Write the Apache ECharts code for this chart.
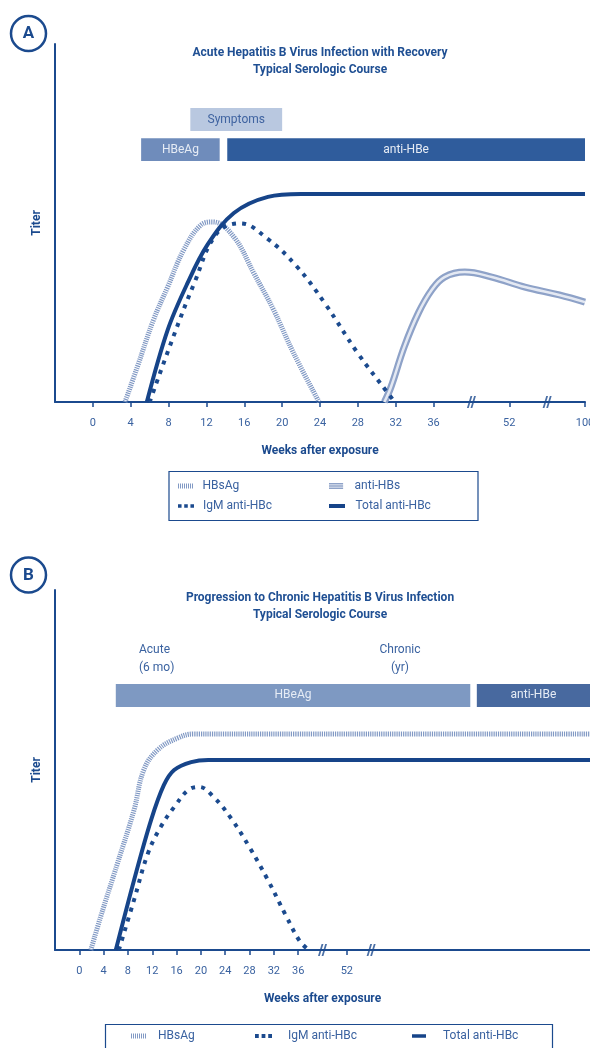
<!DOCTYPE html>
<html>
<head>
<meta charset="utf-8">
<script src="https://cdn.jsdelivr.net/npm/echarts@6/dist/echarts.min.js"></script>
<style>
  html, body { margin: 0; padding: 0; background: #fff; }
  #chart { width: 590px; height: 1048px; }
</style>
</head>
<body>
<div id="chart"></div>
<script>
// ---- panel A: acute infection with recovery (weeks after exposure, titer 0-100) ----
const hbsagWeeksA = [3.4, 4.7, 6.4, 7.9, 9.6, 11.4, 12.7, 14.9, 17.0, 19.1, 21.2, 23.9];
const hbsagTiterA = [0, 9.8, 22.9, 32.1, 42.5, 49.4, 50.3, 46.1, 36.0, 25.7, 13.7, 0];
const igmWeeksA = [6.0, 8.5, 10.7, 13.1, 15.6, 18.4, 21.5, 24.5, 28.0, 31.2, 31.9];
const igmTiterA = [0, 18.2, 33.1, 47.1, 49.9, 45.7, 38.0, 27.6, 13.6, 2.4, 0];
const totalWeeksA = [5.7, 7.9, 10.0, 12.1, 14.9, 18.5, 22, 36, 52, 100];
const totalTiterA = [0, 20.1, 33.2, 43.9, 52.8, 57.3, 58.1, 58.1, 58.1, 58.1];
const antiHbsWeeksA = [30.8, 31.5, 32.9, 34.4, 35.8, 38.3, 42.6, 48.3, 61.9, 83.7, 100];
const antiHbsTiterA = [0, 4.2, 15.4, 24.9, 31.3, 34.9, 36.3, 34.9, 32.1, 29.9, 27.9];
const barNamesA = ["Symptoms", "HBeAg", "anti-HBe"];
const barStartA = [10.3, 5.1, 14.2];
const barEndA = [20.0, 13.4, 100];
const barRowA = [0, 1, 1];
const tickWeeksA = [0, 4, 8, 12, 16, 20, 24, 28, 32, 36, 52, 100];

// ---- panel B: progression to chronic infection ----
const hbsagWeeksB = [1.9, 3.5, 6.3, 9.0, 10.6, 12.9, 16.2, 18.8, 36, 52, 312];
const hbsagTiterB = [0, 9.2, 24.2, 38.9, 50, 55.6, 58.9, 60, 60, 60, 60];
const igmWeeksB = [6.5, 9.0, 11.3, 13.4, 15.6, 17.9, 19.7, 22.1, 25.0, 28.0, 31.0, 34.0, 36.5, 39.5];
const igmTiterB = [0, 13.9, 26.9, 34.2, 39.7, 44.4, 45.3, 42.5, 36.5, 28.5, 19.5, 9.5, 2.5, 0];
const totalWeeksB = [6.0, 9.0, 11.8, 13.9, 15.6, 18.4, 21.2, 36, 52, 312];
const totalTiterB = [0, 19.4, 36.1, 45.8, 50, 52.2, 52.8, 52.8, 52.8, 52.8];
const barNamesB = ["HBeAg", "anti-HBe"];
const barStartB = [6.0, 191];
const barEndB = [184, 312];
const barRowB = [0, 0];
const tickWeeksB = [0, 4, 8, 12, 16, 20, 24, 28, 32, 36, 52];

const DARK = "#1b4a8e";
const TEXT = "#3a62a0";
const FONT = "Roboto";

// broken axis: 0-36 weeks linear, then compressed segments after each "//"
function posA(w) {
  if (w <= 36) return w / 4;
  if (w <= 52) return 9 + (w - 36) / 8;
  return 11 + (w - 52) / 24;
}
function posB(w) {
  if (w <= 36) return w / 4;
  if (w <= 52) return 9 + (w - 36) / 8;
  return 11 + (w - 52) / 26;
}
function pair(weeks, titer, fn) {
  return weeks.map((w, i) => [fn(w), titer[i]]);
}
const breakPos = [10, 12];

function makeX(gridIndex, max, ticks, fn) {
  const pos = ticks.map(fn);
  return {
    gridIndex: gridIndex,
    type: "value",
    min: -1,
    max: max,
    axisLine: { lineStyle: { color: DARK, width: 2 } },
    axisTick: { show: true, customValues: pos, length: 5, lineStyle: { color: DARK, width: 1.5 } },
    axisLabel: {
      customValues: pos,
      color: TEXT,
      fontFamily: FONT,
      fontSize: 11,
      margin: 16,
      hideOverlap: false,
      formatter: function (v) {
        const i = pos.findIndex(p => Math.abs(p - v) < 1e-6);
        return i >= 0 ? String(ticks[i]) : "";
      }
    },
    splitLine: { show: false },
    name: "Weeks after exposure",
    nameLocation: "middle",
    nameGap: 43,
    nameTextStyle: { color: DARK, fontFamily: FONT, fontSize: 12, fontWeight: "bold" }
  };
}
function makeY(gridIndex) {
  return {
    gridIndex: gridIndex,
    type: "value",
    min: 0,
    max: 100,
    axisLine: { show: true, onZero: false, lineStyle: { color: DARK, width: 2 } },
    axisTick: { show: false },
    axisLabel: { show: false },
    splitLine: { show: false },
    name: "Titer",
    nameLocation: "middle",
    nameGap: 12,
    nameRotate: 90,
    nameTextStyle: { color: DARK, fontFamily: FONT, fontSize: 12, fontWeight: "bold" }
  };
}

function hbsagLine(idx, data) {
  return {
    name: "HBsAg", type: "line", xAxisIndex: idx, yAxisIndex: idx, data: data,
    smooth: 0.4, symbol: "none", clip: false, z: 3,
    lineStyle: { color: "#8199c4", width: 5, type: [1.2, 1] },
    itemStyle: { color: "#8199c4" }
  };
}
function igmLine(idx, data) {
  return {
    name: "IgM anti-HBc", type: "line", xAxisIndex: idx, yAxisIndex: idx, data: data,
    smooth: 0.4, symbol: "none", clip: false, z: 4,
    lineStyle: { color: DARK, width: 4, type: [4, 6], cap: "butt" },
    itemStyle: { color: DARK }
  };
}
function totalLine(idx, data) {
  return {
    name: "Total anti-HBc", type: "line", xAxisIndex: idx, yAxisIndex: idx, data: data,
    smooth: 0.35, symbol: "none", clip: false, z: 5,
    lineStyle: { color: "#164489", width: 4 },
    itemStyle: { color: "#164489" }
  };
}
function breakMarks(idx) {
  return {
    type: "scatter", xAxisIndex: idx, yAxisIndex: idx, silent: true, clip: false, z: 10,
    data: breakPos.map(p => [p, 0]),
    symbol: "path://M0,12 L2,12 L6,0 L4,0 Z M4,12 L6,12 L10,0 L8,0 Z",
    symbolSize: [9, 12],
    itemStyle: { color: DARK }
  };
}
// rows of the marker bars, in titer units: [bottom, top]
function barSeries(idx, names, start, end, row, fn, rows, fills, textFills) {
  return {
    type: "custom", xAxisIndex: idx, yAxisIndex: idx, silent: true, z: 1,
    data: names.map((n, i) => [fn(start[i]), fn(end[i]), row[i]]),
    renderItem: function (params, api) {
      const r = rows[api.value(2)];
      const p0 = api.coord([api.value(0), r[1]]);
      const p1 = api.coord([api.value(1), r[0]]);
      const i = params.dataIndex;
      return {
        type: "group",
        children: [
          { type: "rect", shape: { x: p0[0], y: p0[1], width: p1[0] - p0[0], height: p1[1] - p0[1] },
            style: { fill: fills[i] } },
          { type: "text",
            style: { text: names[i], x: (p0[0] + p1[0]) / 2, y: (p0[1] + p1[1]) / 2,
                     align: "center", verticalAlign: "middle", textAlign: "center", textVerticalAlign: "middle",
                     fill: textFills[i], fontFamily: FONT, fontSize: 12 } }
        ]
      };
    }
  };
}

function legendItem(name, icon, left, top, w, h, gap) {
  return {
    data: [{ name: name, icon: icon }],
    left: left, top: top, padding: 0, itemWidth: w, itemHeight: h, selectedMode: false,
    textStyle: { color: TEXT, fontFamily: FONT, fontSize: 12, padding: [0, 0, 0, gap] }
  };
}
const ICON_HATCH = "path://" + Array.from({ length: 8 }, (_, i) => "M" + (i * 2) + ",0h1v5h-1z").join(" ");
const ICON_STRIPE = "path://M0,0h16v1.6h-16z M0,2.6h16v1.6h-16z M0,5.2h16v1.6h-16z";
const ICON_DOTS = "path://M0,0h4v4h-4z M7,0h4v4h-4z M14,0h4v4h-4z";
const ICON_BAR = "path://M0,0h16v4h-16z";

const chart = echarts.init(document.getElementById("chart"));
chart.setOption({
  animation: false,
  backgroundColor: "#fff",
  grid: [
    { left: 55, top: 44, width: 530, height: 358, outerBoundsMode: "none", containLabel: false },
    { left: 55, top: 590, width: 535, height: 360, outerBoundsMode: "none", containLabel: false }
  ],
  xAxis: [makeX(0, 13, tickWeeksA, posA), makeX(1, 21, tickWeeksB, posB)],
  yAxis: [makeY(0), makeY(1)],
  legend: [
    legendItem("HBsAg", ICON_HATCH, 178, 480, 16, 5, 4),
    legendItem("IgM anti-HBc", ICON_DOTS, 178, 500, 16, 4, 4),
    legendItem("anti-HBs", ICON_STRIPE, 329, 480, 17, 6, 5),
    legendItem("Total anti-HBc", ICON_BAR, 329, 500, 17, 4, 5),
    legendItem("HBsAg", ICON_HATCH, 131, 1030, 25, 5, 2),
    legendItem("IgM anti-HBc", ICON_DOTS, 255, 1030, 17, 4, 11),
    legendItem("Total anti-HBc", ICON_BAR, 412, 1030, 14, 4, 12)
  ],
  graphic: [
    { type: "circle", shape: { cx: 28.5, cy: 33.5, r: 17.5 }, style: { fill: "#fff", stroke: DARK, lineWidth: 2.5 } },
    { type: "text", style: { text: "A", x: 28.5, y: 34, align: "center", verticalAlign: "middle",
      fill: DARK, fontFamily: FONT, fontSize: 17, fontWeight: "bold" } },
    { type: "circle", shape: { cx: 28.5, cy: 575, r: 17.5 }, style: { fill: "#fff", stroke: DARK, lineWidth: 2.5 } },
    { type: "text", style: { text: "B", x: 28.5, y: 575.5, align: "center", verticalAlign: "middle",
      fill: DARK, fontFamily: FONT, fontSize: 17, fontWeight: "bold" } },
    { type: "text", style: { text: "Acute Hepatitis B Virus Infection with Recovery\nTypical Serologic Course",
      x: 320, y: 44, align: "center", verticalAlign: "top", lineHeight: 17,
      fill: "#1f4f93", fontFamily: FONT, fontSize: 12, fontWeight: "bold" } },
    { type: "text", style: { text: "Progression to Chronic Hepatitis B Virus Infection\nTypical Serologic Course",
      x: 320, y: 589, align: "center", verticalAlign: "top", lineHeight: 17,
      fill: "#1f4f93", fontFamily: FONT, fontSize: 12, fontWeight: "bold" } },
    { type: "text", style: { text: "Acute\n(6 mo)", x: 139, y: 641, align: "left", verticalAlign: "top",
      lineHeight: 18, fill: TEXT, fontFamily: FONT, fontSize: 12 } },
    { type: "text", style: { text: "Chronic\n(yr)", x: 400, y: 641, align: "center", verticalAlign: "top",
      lineHeight: 18, fill: TEXT, fontFamily: FONT, fontSize: 12 } },
    { type: "rect", shape: { x: 169, y: 471.5, width: 309, height: 49 },
      style: { fill: "none", stroke: DARK, lineWidth: 1.2 } },
    { type: "rect", shape: { x: 105.5, y: 1024.5, width: 447, height: 40 },
      style: { fill: "none", stroke: DARK, lineWidth: 1.2 } }
  ],
  series: [
    barSeries(0, barNamesA, barStartA, barEndA, barRowA, posA,
      [[75.7, 82.1], [67.3, 73.7]],
      ["#b9c8e0", "#6f8cbb", "#2f5c9c"], ["#3f63a0", "#e6ecf5", "#e6ecf5"]),
    {
      name: "anti-HBs", type: "line", xAxisIndex: 0, yAxisIndex: 0,
      data: pair(antiHbsWeeksA, antiHbsTiterA, posA),
      smooth: 0.4, symbol: "none", clip: false, z: 2,
      lineStyle: { color: "#8ea2c8", width: 7 },
      itemStyle: { color: "#8ea2c8" }
    },
    {
      type: "line", xAxisIndex: 0, yAxisIndex: 0, silent: true,
      data: pair(antiHbsWeeksA, antiHbsTiterA, posA),
      smooth: 0.4, symbol: "none", clip: false, z: 2,
      lineStyle: { color: "#e4e9f3", width: 2.5 }
    },
    hbsagLine(0, pair(hbsagWeeksA, hbsagTiterA, posA)),
    igmLine(0, pair(igmWeeksA, igmTiterA, posA)),
    totalLine(0, pair(totalWeeksA, totalTiterA, posA)),
    breakMarks(0),

    barSeries(1, barNamesB, barStartB, barEndB, barRowB, posB,
      [[67.5, 73.9]],
      ["#7e99c2", "#48699f"], ["#e6ecf5", "#e6ecf5"]),
    hbsagLine(1, pair(hbsagWeeksB, hbsagTiterB, posB)),
    igmLine(1, pair(igmWeeksB, igmTiterB, posB)),
    totalLine(1, pair(totalWeeksB, totalTiterB, posB)),
    breakMarks(1)
  ]
});
</script>
</body>
</html>
